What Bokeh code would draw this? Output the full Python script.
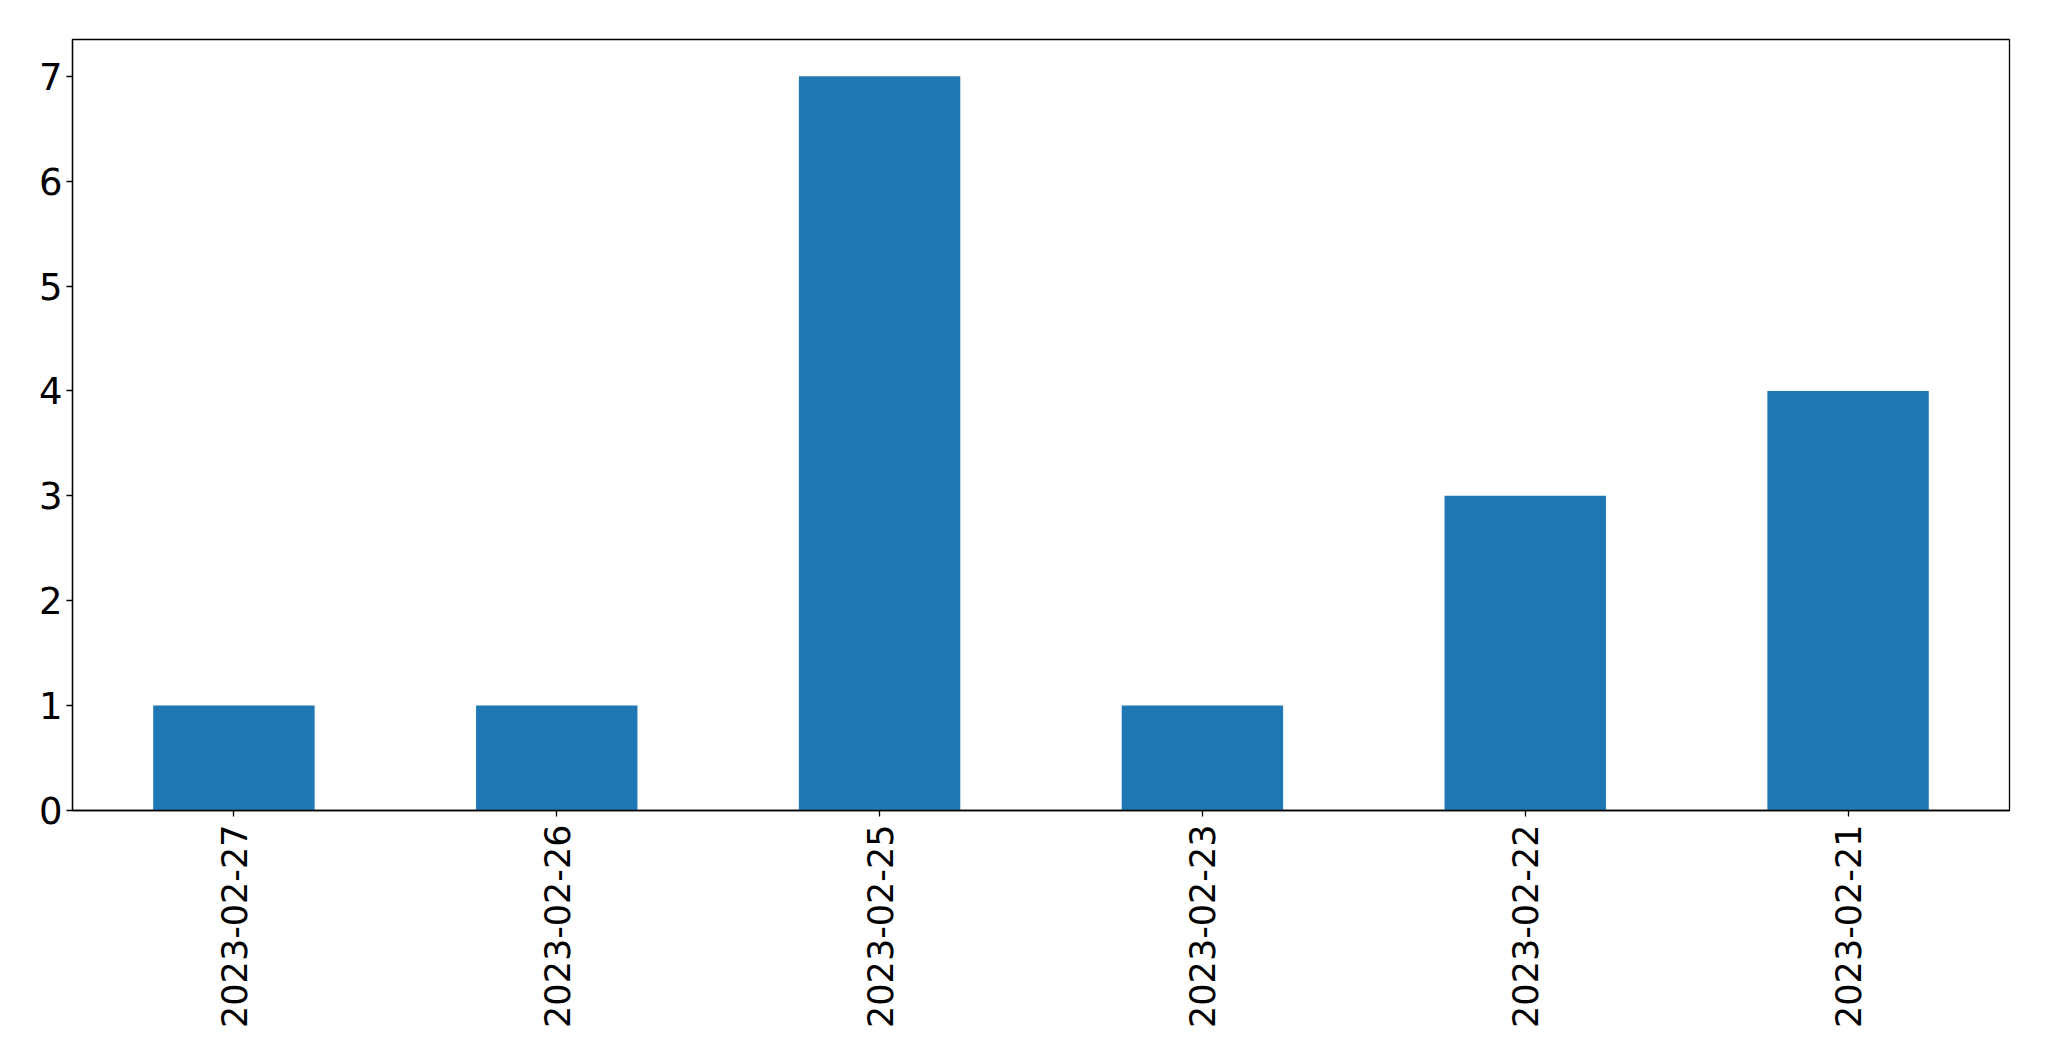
import math
from bokeh.plotting import figure
from bokeh.models import FactorRange, Range1d, FixedTicker, ColumnDataSource
from bokeh.embed import file_html
from bokeh.resources import INLINE

dates = ["2023-02-27", "2023-02-26", "2023-02-25", "2023-02-23", "2023-02-22", "2023-02-21"]
counts = [1, 1, 7, 1, 3, 4]
y_ticks = [0, 1, 2, 3, 4, 5, 6, 7]

source = ColumnDataSource(data=dict(date=dates, count=counts))

p = figure(
    width=2041, height=1053,
    x_range=FactorRange(*dates, range_padding=0),
    y_range=Range1d(0, 7.35),
    output_backend="svg", toolbar_location=None,
    min_border_left=72, min_border_right=32, min_border_top=39, min_border_bottom=243,
)

p.vbar(x="date", top="count", width=0.5, source=source, color="#1f77b4", line_color=None)

p.xgrid.visible = False
p.ygrid.visible = False
p.outline_line_color = "black"
p.outline_line_width = 1.3
p.outline_line_alpha = 1

for ax in (p.xaxis, p.yaxis):
    ax.axis_line_color = "black"
    ax.axis_line_width = 1.3
    ax.major_tick_line_color = "black"
    ax.major_tick_line_width = 1.3
    ax.major_tick_out = 6
    ax.major_tick_in = 0
    ax.minor_tick_line_color = None
    ax.major_label_text_font = "DejaVu Sans"
    ax.major_label_text_color = "black"

p.xaxis.major_label_text_font_size = "35px"
p.yaxis.major_label_text_font_size = "37px"
p.yaxis.ticker = FixedTicker(ticks=y_ticks)
p.yaxis.major_label_standoff = 4
p.xaxis.major_label_orientation = math.pi / 2
p.xaxis.major_label_standoff = 8

open("out.html", "w").write(file_html(p, INLINE))
